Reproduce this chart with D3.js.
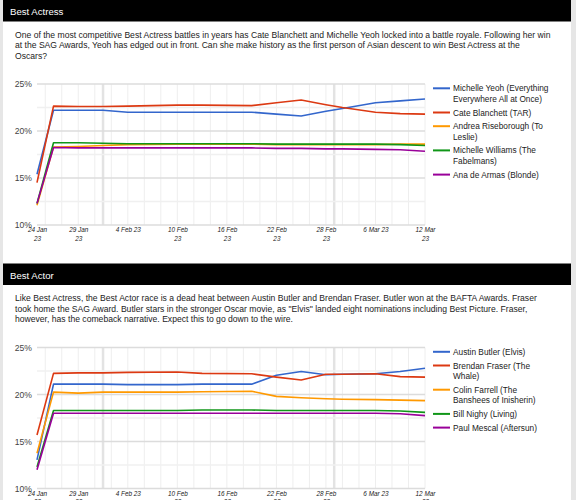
<!DOCTYPE html>
<html><head><meta charset="utf-8">
<script src="https://cdn.jsdelivr.net/npm/d3@7/dist/d3.min.js"></script>
<style>
html,body{margin:0;padding:0;background:#e6e6e6;}
svg{display:block;font-family:"Liberation Sans",Arial,sans-serif;}
</style></head><body>
<svg id="c" width="576" height="500"></svg>
<script>
// ---------- DATA ----------
const dates = ["2023-01-24","2023-01-26","2023-01-29","2023-02-01","2023-02-04","2023-02-10","2023-02-13","2023-02-19","2023-02-22","2023-02-25","2023-02-28","2023-03-02","2023-03-06","2023-03-09","2023-03-12"];
const tickDates = ["2023-01-24","2023-01-29","2023-02-04","2023-02-10","2023-02-16","2023-02-22","2023-02-28","2023-03-06","2023-03-12"];
const tickLabels = ["24 Jan\n23","29 Jan\n23","4 Feb 23","10 Feb\n23","16 Feb\n23","22 Feb\n23","28 Feb\n23","6 Mar 23","12 Mar\n23"];
const yTicks = [10,15,20,25];

const actressTitle = "Best Actress";
const actressText = [
 "One of the most competitive Best Actress battles in years has Cate Blanchett and Michelle Yeoh locked into a battle royale. Following her win",
 "at the SAG Awards, Yeoh has edged out in front. Can she make history as the first person of Asian descent to win Best Actress at the",
 "Oscars?"];
const actressNames = ["Michelle Yeoh (Everything Everywhere All at Once)","Cate Blanchett (TAR)","Andrea Riseborough (To Leslie)","Michelle Williams (The Fabelmans)","Ana de Armas (Blonde)"];
const yeoh        = [15.4,22.2,22.2,22.2,22.0,22.0,22.0,22.0,21.8,21.6,22.1,22.4,23.0,23.2,23.4];
const blanchett   = [14.5,22.65,22.6,22.6,22.65,22.75,22.75,22.7,23.0,23.3,22.8,22.5,22.0,21.85,21.8];
const riseborough = [12.1,18.3,18.35,18.45,18.55,18.6,18.6,18.6,18.55,18.55,18.55,18.55,18.55,18.6,18.6];
const williams    = [12.3,18.75,18.75,18.7,18.65,18.65,18.65,18.65,18.6,18.6,18.6,18.6,18.6,18.55,18.45];
const deArmas     = [12.3,18.25,18.2,18.2,18.2,18.2,18.2,18.2,18.15,18.15,18.1,18.1,18.05,18.0,17.85];

const actorTitle = "Best Actor";
const actorText = [
 "Like Best Actress, the Best Actor race is a dead heat between Austin Butler and Brendan Fraser. Butler won at the BAFTA Awards. Fraser",
 "took home the SAG Award. Butler stars in the stronger Oscar movie, as \"Elvis\" landed eight nominations including Best Picture. Fraser,",
 "however, has the comeback narrative. Expect this to go down to the wire."];
const actorNames = ["Austin Butler (Elvis)","Brendan Fraser (The Whale)","Colin Farrell (The Banshees of Inisherin)","Bill Nighy (Living)","Paul Mescal (Aftersun)"];
const butler  = [13.05,21.1,21.1,21.1,21.05,21.05,21.1,21.1,22.05,22.45,22.1,22.15,22.2,22.45,22.8];
const fraser  = [15.7,22.25,22.3,22.3,22.35,22.4,22.25,22.2,21.85,21.55,22.15,22.15,22.2,21.9,21.85];
const farrell = [13.75,20.25,20.15,20.25,20.25,20.25,20.3,20.35,19.8,19.65,19.55,19.5,19.45,19.4,19.35];
const nighy   = [12.3,18.3,18.3,18.3,18.3,18.3,18.35,18.35,18.3,18.3,18.3,18.3,18.3,18.25,18.1];
const mescal  = [12.0,18.0,18.0,18.0,18.0,18.0,18.0,18.0,18.0,18.0,18.0,18.0,18.0,17.95,17.75];

const colors = ["#3366cc","#dc3912","#ff9900","#109618","#990099"];

// ---------- DRAW ----------
const svg = d3.select("#c");
svg.append("rect").attr("x",0).attr("y",0).attr("width",576).attr("height",500).attr("fill","#e6e6e6");
svg.append("rect").attr("x",3).attr("y",0).attr("width",568).attr("height",500).attr("fill","#fff");

const parse = d3.utcParse("%Y-%m-%d");
const X = dates.map(parse);

function panel(top, title, textLines, names, series){
  const g = svg.append("g");
  g.append("rect").attr("x",3).attr("y",top).attr("width",568).attr("height",21.5).attr("fill","#000");
  g.append("text").attr("x",10).attr("y",top+15).attr("fill","#fff").attr("font-size",9.6).text(title);
  const t = g.append("text").attr("x",15).attr("y",top+37.5).attr("fill","#222").attr("font-size",8.6);
  textLines.forEach((l,i)=>t.append("tspan").attr("x",15).attr("y",top+37.5+i*10.5).text(l));

  const y0 = top+84;           // 25% line
  const x = d3.scaleUtc().domain([parse(tickDates[0]), parse(tickDates[tickDates.length-1])]).range([37,425]);
  const y = d3.scaleLinear().domain([10,25]).range([y0+141,y0]);

  // minor vertical grid every 2 days
  const minorDays = d3.utcDay.range(d3.utcDay.offset(x.domain()[0],1), d3.utcDay.offset(x.domain()[1],1)).filter((d,i)=>i%2===0);
  g.append("g").selectAll("line").data(minorDays).join("line")
    .attr("x1",d=>x(d)).attr("x2",d=>x(d)).attr("y1",y(25)).attr("y2",y(10))
    .attr("stroke","#eeeeee").attr("stroke-width",1);
  // month lines
  g.append("g").selectAll("line").data(d3.utcMonth.range(x.domain()[0], x.domain()[1])).join("line")
    .attr("x1",d=>x(d)).attr("x2",d=>x(d)).attr("y1",y(25)).attr("y2",y(10))
    .attr("stroke","#e3e3e3").attr("stroke-width",2.5);
  // minor horizontal
  g.append("g").selectAll("line").data([12.5,17.5,22.5]).join("line")
    .attr("x1",37).attr("x2",425).attr("y1",d=>y(d)).attr("y2",d=>y(d))
    .attr("stroke","#f0f0f0").attr("stroke-width",1.5);
  // major horizontal
  g.append("g").selectAll("line").data(yTicks).join("line")
    .attr("x1",37).attr("x2",425).attr("y1",d=>y(d)).attr("y2",d=>y(d))
    .attr("stroke","#dcdcdc").attr("stroke-width",1.5);

  // y axis
  const ya = g.append("g").attr("transform","translate(37,0)")
    .call(d3.axisLeft(y).tickValues(yTicks).tickSize(0).tickPadding(5).tickFormat(d=>d+"%"));
  ya.select(".domain").remove();
  ya.selectAll("text").attr("font-size",8.6).attr("fill","#444").attr("font-family","Liberation Sans, Arial, sans-serif");

  // x axis
  const xa = g.append("g").attr("transform",`translate(0,${y(10)})`)
    .call(d3.axisBottom(x).tickValues(tickDates.map(parse)).tickSize(0).tickPadding(0).tickFormat(""));
  xa.select(".domain").remove();
  xa.selectAll(".tick").each(function(d,i){
    const tx = d3.select(this).select("text").text(null)
      .attr("font-size",6.4).attr("font-style","italic").attr("fill","#222")
      .attr("font-family","Liberation Sans, Arial, sans-serif").attr("y",0).attr("dy",null);
    tickLabels[i].split("\n").forEach((s,j)=>tx.append("tspan").attr("x",0).attr("y",7.3+j*8.2).text(s));
  });

  // lines
  const line = d3.line().x((d,i)=>x(X[i])).y(d=>y(d));
  series.forEach((s,k)=>{
    g.append("path").datum(s).attr("d",line).attr("fill","none")
      .attr("stroke",colors[k]).attr("stroke-width",1.6).attr("stroke-linejoin","round");
  });

  // legend
  let ly = y0+4.3;
  names.forEach((n,k)=>{
    g.append("line").attr("x1",433).attr("x2",450).attr("y1",ly).attr("y2",ly)
      .attr("stroke",colors[k]).attr("stroke-width",2);
    const txt = g.append("text").attr("font-size",8.3).attr("fill","#222");
    const words = n.split(" ");
    let lines=[], cur="";
    const probe = g.append("text").attr("font-size",8.3);
    words.forEach(w=>{
      const tryS = cur? cur+" "+w : w;
      probe.text(tryS);
      if(probe.node().getComputedTextLength()>100 && cur){ lines.push(cur); cur=w; } else cur=tryS;
    });
    lines.push(cur); probe.remove();
    lines.forEach((l,j)=>txt.append("tspan").attr("x",453).attr("y",ly+3+j*10.5).text(l));
    ly += (lines.length-1)*10.5 + 13.7;
  });
}

panel(0, actressTitle, actressText, actressNames, [yeoh,blanchett,riseborough,williams,deArmas]);
panel(263.5, actorTitle, actorText, actorNames, [butler,fraser,farrell,nighy,mescal]);
</script>
</body></html>
